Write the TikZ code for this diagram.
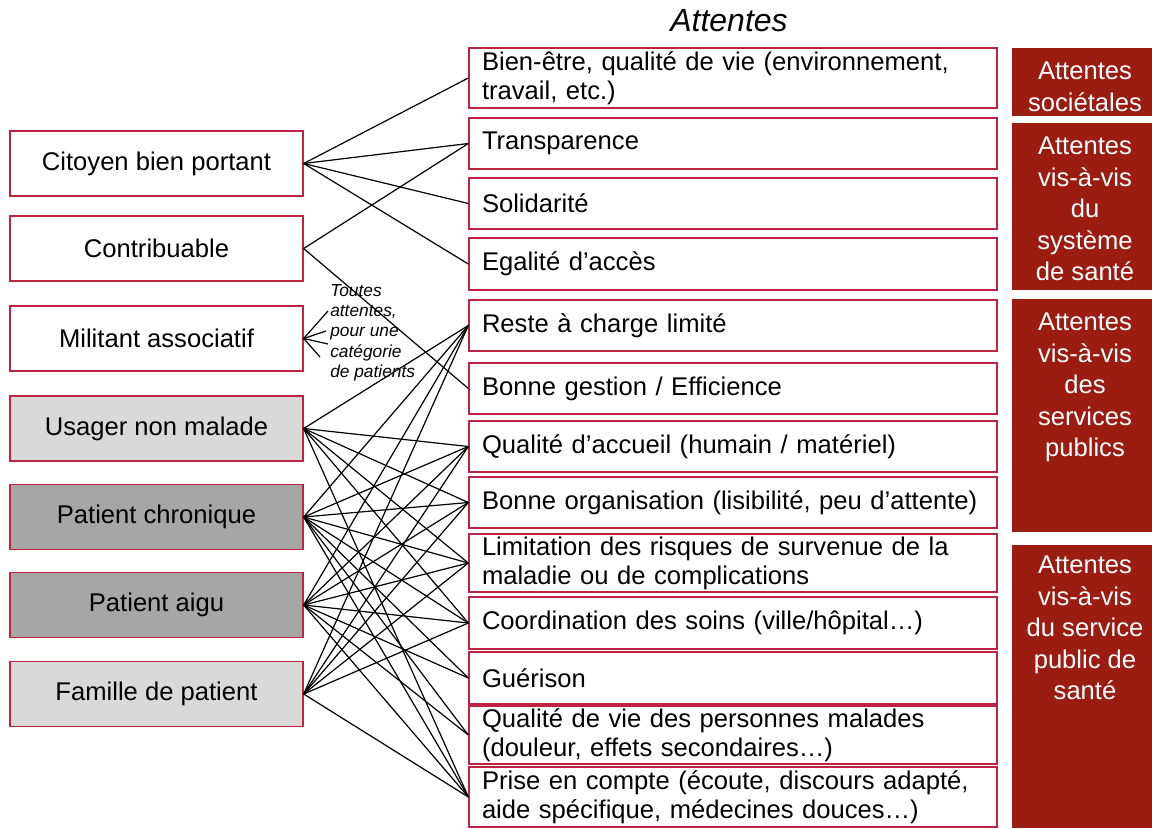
\documentclass[tikz,border=0pt]{standalone}
\usepackage{fontspec}
\setmainfont{Liberation Sans}
\definecolor{bord}{RGB}{190,35,65}
\definecolor{redc}{RGB}{155,28,16}
\definecolor{lgray}{RGB}{217,217,217}
\definecolor{dgray}{RGB}{166,166,166}
\begin{document}
\begin{tikzpicture}[x=0.75pt,y=-0.75pt,
  txt/.style={font=\fontsize{19.2}{21.75}\selectfont},
  lbox/.style={draw=bord, line width=1pt, minimum width=219.75pt, minimum height=48.75pt, inner sep=0pt, txt},
  rbox/.style={draw=bord, line width=1pt, fill=white, text width=376.5pt, inner xsep=9.75pt, inner ysep=0pt, align=left, txt},
  redbox/.style={fill=redc, draw=none, minimum width=105pt, inner sep=0pt},
  redtxt/.style={anchor=north, align=center, text=white, inner sep=0pt, font=\fontsize{19.2}{23.6}\selectfont},
  link/.style={line width=0.9pt, black},
]
\useasboundingbox (0,0) rectangle (1152,828);

% title
\node[font=\fontsize{24}{27}\selectfont\itshape] (title) at (729,21) {Attentes};

% left boxes
\node[lbox] (l1) at (156.5,163.5) {Citoyen bien portant};
\node[lbox] (l2) at (156.5,248.5) {Contribuable};
\node[lbox] (l3) at (156.5,338.5) {Militant associatif};
\node[lbox, fill=lgray] (l4) at (156.5,428.5) {Usager non malade};
\node[lbox, fill=dgray] (l5) at (156.5,517) {Patient chronique};
\node[lbox, fill=dgray] (l6) at (156.5,605) {Patient aigu};
\node[lbox, fill=lgray] (l7) at (156.5,694) {Famille de patient};

% right boxes
\node[rbox, minimum height=45pt] (r1) at (733,78) {Bien-être, qualité de vie (environnement,\\travail, etc.)};
\node[rbox, minimum height=38.25pt] (r2) at (733,143.5) {Transparence};
\node[rbox, minimum height=38.25pt] (r3) at (733,203.5) {Solidarité};
\node[rbox, minimum height=39pt] (r4) at (733,264) {Egalité d’accès};
\node[rbox, minimum height=38.25pt] (r5) at (733,325.5) {Reste à charge limité};
\node[rbox, minimum height=38.25pt] (r6) at (733,388.5) {Bonne gestion / Efficience};
\node[rbox, minimum height=38.25pt] (r7) at (733,446.5) {Qualité d’accueil (humain / matériel)};
\node[rbox, minimum height=38.25pt] (r8) at (733,502.5) {Bonne organisation (lisibilité, peu d’attente)};
\node[rbox, minimum height=43.5pt] (r9) at (733,563) {Limitation des risques de survenue de la\\maladie ou de complications};
\node[rbox, minimum height=39pt] (r10) at (733,623) {Coordination des soins (ville/hôpital…)};
\node[rbox, minimum height=39pt] (r11) at (733,678) {Guérison};
\node[rbox, minimum height=43.5pt] (r12) at (733,735) {Qualité de vie des personnes malades\\(douleur, effets secondaires…)};
\node[rbox, minimum height=45pt] (r13) at (733,797) {Prise en compte (écoute, discours adapté,\\aide spécifique, médecines douces…)};

% red category boxes
\node[redbox, minimum height=51pt] (s1) at (1082,82) {};
\node[redbox, minimum height=125.25pt] (s2) at (1082,206.5) {};
\node[redbox, minimum height=174.75pt] (s3) at (1082,415.5) {};
\node[redbox, minimum height=212.25pt] (s4) at (1082,686.5) {};
\node[redtxt] (t1) at (1085,62) {Attentes\\sociétales};
\node[redtxt] (t2) at (1085,137) {Attentes\\vis-à-vis\\du\\système\\de santé};
\node[redtxt] (t3) at (1085,313) {Attentes\\vis-à-vis\\des\\services\\publics};
\node[redtxt] (t4) at (1085,556) {Attentes\\vis-à-vis\\du service\\public de\\santé};

% annotation
\node[anchor=north west, inner sep=0pt, align=left, font=\fontsize{13}{15.3}\selectfont\itshape] (note) at (330,284) {Toutes\\attentes,\\pour une\\catégorie\\de patients};
\coordinate (m1) at (328,311);
\coordinate (m2) at (326,331);
\coordinate (m3) at (328,344);
\coordinate (m4) at (320,357);

% connectors
\foreach \t in {r1,r2,r3,r4} \draw[link] (l1.east) -- (\t.west);
\foreach \t in {r2,r6} \draw[link] (l2.east) -- (\t.west);
\foreach \t in {m1,m2,m3,m4} \draw[link] (l3.east) -- (\t);
\foreach \t in {r5,r7,r8,r9,r10,r13} \draw[link] (l4.east) -- (\t.west);
\foreach \t in {r5,r7,r8,r9,r10,r11,r12,r13} \draw[link] (l5.east) -- (\t.west);
\foreach \t in {r5,r7,r8,r9,r10,r11,r12,r13} \draw[link] (l6.east) -- (\t.west);
\foreach \t in {r5,r7,r8,r9,r10,r13} \draw[link] (l7.east) -- (\t.west);
\end{tikzpicture}
\end{document}
